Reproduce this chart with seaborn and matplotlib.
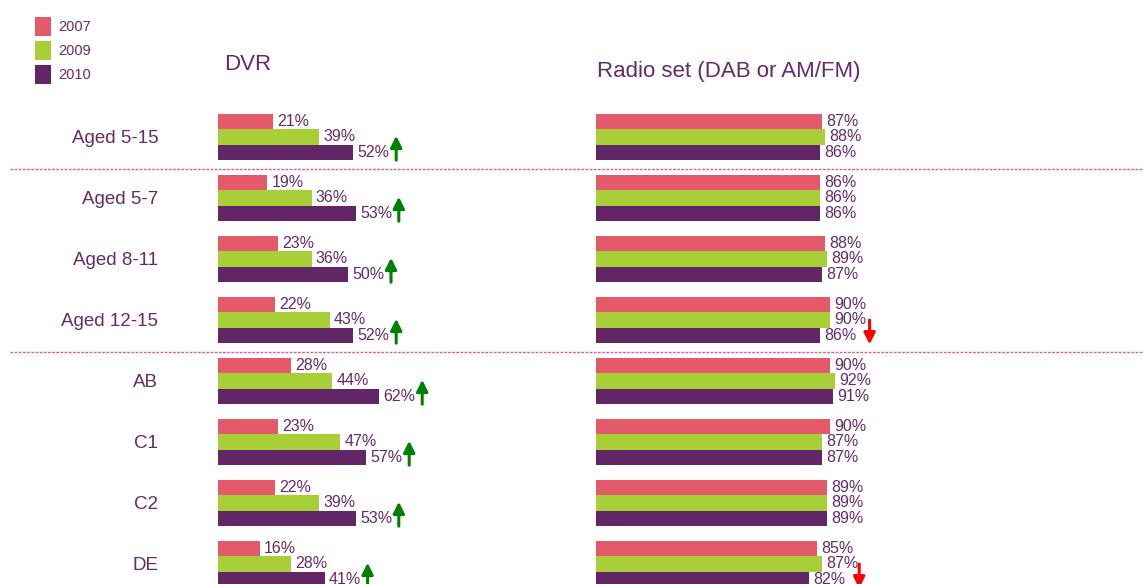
import matplotlib.pyplot as plt
import seaborn as sns
import pandas as pd
from matplotlib.patches import Patch
from matplotlib.transforms import offset_copy

# ─────────────────────────────────────────────
# DATOS
# ─────────────────────────────────────────────
groups = ["Aged 5-15", "Aged 5-7", "Aged 8-11", "Aged 12-15", "AB", "C1", "C2", "DE"]
years = ["2007", "2009", "2010"]

dvr_2007 = [21, 19, 23, 22, 28, 23, 22, 16]
dvr_2009 = [39, 36, 36, 43, 44, 47, 39, 28]
dvr_2010 = [52, 53, 50, 52, 62, 57, 53, 41]

radio_2007 = [87, 86, 88, 90, 90, 90, 89, 85]
radio_2009 = [88, 86, 89, 90, 92, 87, 89, 87]
radio_2010 = [86, 86, 87, 86, 91, 87, 89, 82]

# cambio significativo 2009 -> 2010
dvr_trend = ["up", "up", "up", "up", "up", "up", "up", "up"]
radio_trend = [None, None, None, "down", None, None, None, "down"]

COLORS = {"2007": "#E55A6A", "2009": "#A8CE38", "2010": "#622566"}
TXT = "#652A68"

sns.set_theme(style="white")
plt.rcParams["font.family"] = ["Liberation Sans", "DejaVu Sans"]


def long_df(v07, v09, v10):
    rows = []
    for yr, vals in zip(years, [v07, v09, v10]):
        for g, v in zip(groups, vals):
            rows.append({"group": g, "year": yr, "value": v})
    return pd.DataFrame(rows)


# ─────────────────────────────────────────────
# FIGURA
# ─────────────────────────────────────────────
W, H = 1143, 584
fig = plt.figure(figsize=(W / 100, H / 100), dpi=100)


def px_axes(left, top, width, height):
    return fig.add_axes([left / W, 1 - (top + height) / H, width / W, height / H])


AX_TOP, AX_H, AX_W = 106.5, 488, 260
ax1 = px_axes(218, AX_TOP, AX_W, AX_H)
ax2 = px_axes(596, AX_TOP, AX_W, AX_H)

panels = [
    (ax1, long_df(dvr_2007, dvr_2009, dvr_2010), dvr_2010, dvr_trend, "DVR", 6, 41.5, 43),
    (ax2, long_df(radio_2007, radio_2009, radio_2010), radio_2010, radio_trend,
     "Radio set (DAB or AM/FM)", 1, 34.5, 50),
]

for ax, df, last, trend, title, tdx, tdy, arrow_dx in panels:
    ax.patch.set_visible(False)
    sns.barplot(data=df, x="value", y="group", hue="year", hue_order=years,
                palette=COLORS, orient="h", width=0.76, errorbar=None,
                saturation=1, linewidth=0, legend=False, ax=ax)
    for cont in ax.containers:
        ax.bar_label(cont, fmt="%d%%", padding=3, color=TXT, fontsize=11.5)

    trans = offset_copy(ax.transData, fig=fig, x=arrow_dx, y=0, units="dots")
    for i, t in enumerate(trend):
        if t is None:
            continue
        v = last[i]
        if t == "up":
            xy, xyt, col = (v, i - 0.02), (v, i + 0.38), "#008000"
        else:
            xy, xyt, col = (v, i + 0.40), (v, i), "#FF0000"
        ax.annotate("", xy=xy, xytext=xyt, xycoords=trans, textcoords=trans,
                    arrowprops=dict(arrowstyle="-|>", color=col, lw=2.2,
                                    mutation_scale=17, shrinkA=0, shrinkB=0))

    ax.set_xlim(0, 100)
    ax.set_ylim(len(groups) - 0.5, -0.5)
    ax.set_xlabel("")
    ax.set_ylabel("")
    ax.set_xticks([])
    sns.despine(ax=ax, left=True, bottom=True)
    ax.text(tdx / AX_W, 1 + tdy / AX_H, title, transform=ax.transAxes,
            ha="left", va="center", fontsize=16, color=TXT)

ax1.tick_params(axis="y", length=0, pad=43, labelsize=13.5, labelcolor=TXT)
ax2.set_yticklabels([])
ax2.tick_params(axis="y", length=0)

# separadores de seccion
for yline in [0.5, 3.5]:
    ax1.axhline(yline + 0.03, xmin=(10 - 218) / AX_W, xmax=(W - 218) / AX_W,
                clip_on=False, color="#D2628F", lw=1, ls=(0, (2, 1)), zorder=0)

# leyenda
handles = [Patch(facecolor=COLORS[y], edgecolor="none") for y in years]
leg = fig.legend(handles, years, loc="upper left", bbox_to_anchor=(22 / W, 1 - 4 / H),
                 frameon=False, fontsize=10.5, handlelength=1.1, handleheight=1.6,
                 labelspacing=0.35, handletextpad=0.5)
for t in leg.get_texts():
    t.set_color(TXT)

fig.savefig("out.png", dpi=100)
